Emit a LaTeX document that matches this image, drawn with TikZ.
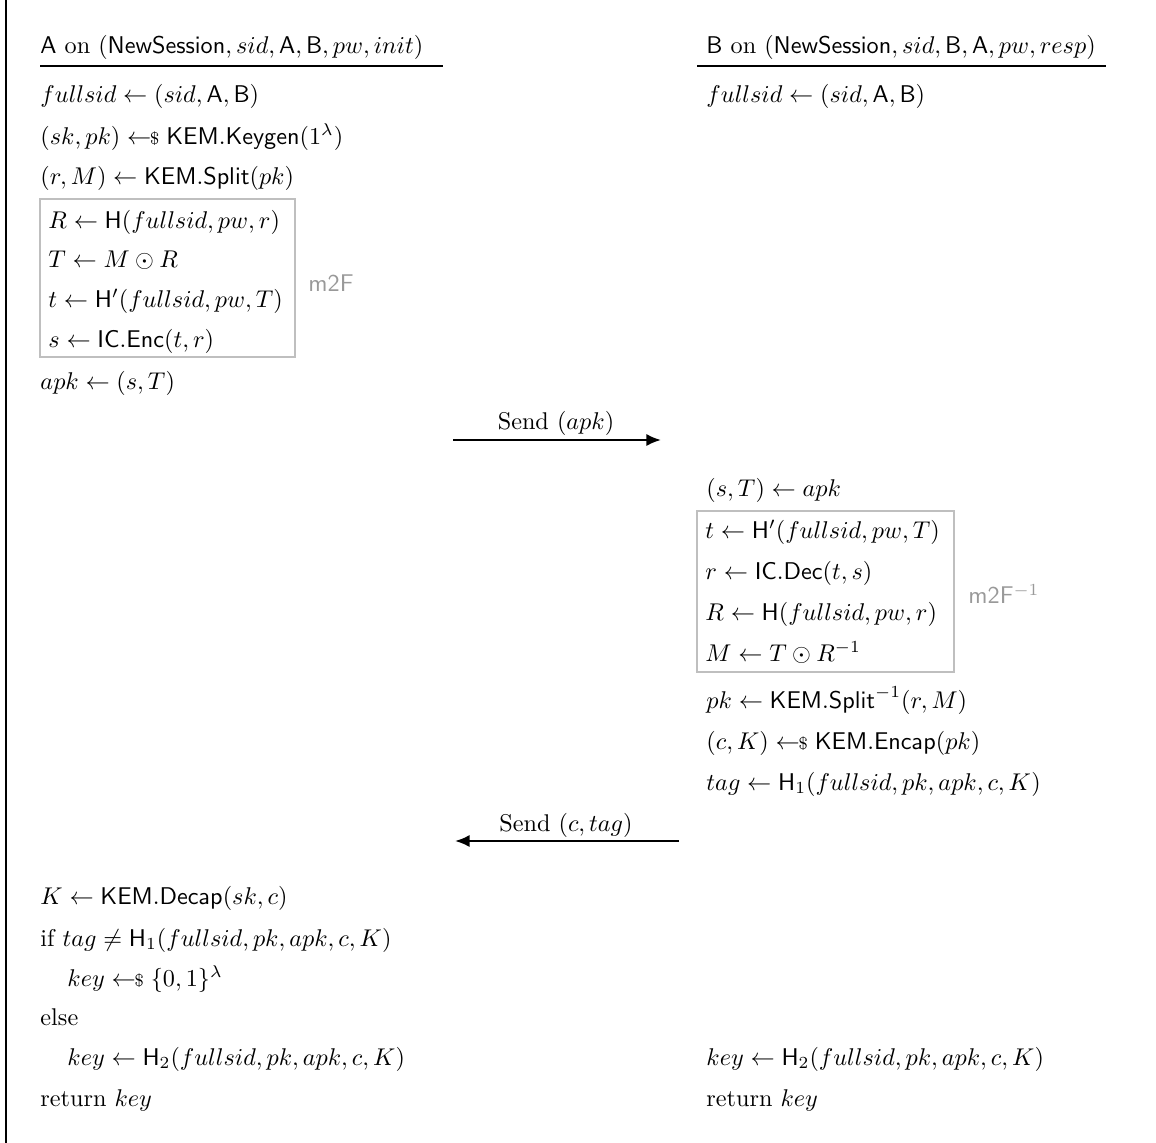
\documentclass[tikz,border=0pt]{standalone}
\usetikzlibrary{arrows.meta}
\newcommand{\smp}{\mathrel{\leftarrow\!\!\mbox{\scriptsize\$}}}
\newcommand{\fs}{fullsid}
\tikzset{
  ln/.style={anchor=west, inner sep=0pt, text height=7.5pt, text depth=2.5pt},
  grayframe/.style={draw=black!25, line width=0.8pt},
  grlabel/.style={anchor=west, inner sep=0pt, text=black!40, font=\sffamily},
  rule/.style={line width=0.9pt},
  msg/.style={line width=0.9pt, -{Latex[length=6pt,width=5pt]}},
  msglabel/.style={inner sep=0pt},
}
\begin{document}
\begin{tikzpicture}[x=0.413pt, y=-0.413pt]
\useasboundingbox (0,0) rectangle (1156,1143);
\draw[line width=0.8pt] (6,0) -- (6,1143);

% Party A header
\node[ln] (ha) at (40,47) {$\mathsf{A}$ on $(\mathsf{NewSession}, sid, \mathsf{A}, \mathsf{B}, pw, init)$};
\draw[rule] (40,66) -- (443,66);
% Party B header
\node[ln] (hb) at (706,47) {$\mathsf{B}$ on $(\mathsf{NewSession}, sid, \mathsf{B}, \mathsf{A}, pw, resp)$};
\draw[rule] (697,66) -- (1106,66);

% A lines
\node[ln] (a1) at (40,96) {$\fs \leftarrow (sid, \mathsf{A}, \mathsf{B})$};
\node[ln] (a2) at (40,138) {$(sk, pk) \smp \mathsf{KEM.Keygen}(1^\lambda)$};
\node[ln] (a3) at (40,178) {$(r, M) \leftarrow \mathsf{KEM.Split}(pk)$};
\node[ln] (a4) at (48,222) {$R \leftarrow \mathsf{H}(\fs, pw, r)$};
\node[ln] (a5) at (48,261) {$T \leftarrow M \odot R$};
\node[ln] (a6) at (48,301) {$t \leftarrow \mathsf{H}'(\fs, pw, T)$};
\node[ln] (a7) at (48,341) {$s \leftarrow \mathsf{IC.Enc}(t, r)$};
\draw[grayframe] (40,199) rectangle (295,357);
\node[grlabel] (m2f) at (308,283) {m2F};
\node[ln] (a8) at (40,383) {$apk \leftarrow (s, T)$};

% message 1
\coordinate (s1) at (453,440);
\coordinate (e1) at (661,440);
\draw[msg] (s1) -- (e1);
\node[msglabel] (l1) at (556,423) {Send $(apk)$};

% B lines
\node[ln] (b1) at (706,96) {$\fs \leftarrow (sid, \mathsf{A}, \mathsf{B})$};
\node[ln] (b2) at (706,490) {$(s, T) \leftarrow apk$};
\node[ln] (b3) at (705,532) {$t \leftarrow \mathsf{H}'(\fs, pw, T)$};
\node[ln] (b4) at (705,573) {$r \leftarrow \mathsf{IC.Dec}(t, s)$};
\node[ln] (b5) at (705,614) {$R \leftarrow \mathsf{H}(\fs, pw, r)$};
\node[ln] (b6) at (705,655) {$M \leftarrow T \odot R^{-1}$};
\draw[grayframe] (697,511) rectangle (954,672);
\node[grlabel] (m2fi) at (968,594) {m2F$^{-1}$};
\node[ln] (b7) at (706,702) {$pk \leftarrow \mathsf{KEM.Split}^{-1}(r, M)$};
\node[ln] (b8) at (706,743) {$(c, K) \smp \mathsf{KEM.Encap}(pk)$};
\node[ln] (b9) at (706,784) {$tag \leftarrow \mathsf{H}_1(\fs, pk, apk, c, K)$};

% message 2
\coordinate (s2) at (679,841);
\coordinate (e2) at (455,841);
\draw[msg] (s2) -- (e2);
\node[msglabel] (l2) at (566,825) {Send $(c, tag)$};

% A final
\node[ln] (a9) at (40,898) {$K \leftarrow \mathsf{KEM.Decap}(sk, c)$};
\node[ln] (a10) at (40,940) {if $tag \neq \mathsf{H}_1(\fs, pk, apk, c, K)$};
\node[ln] (a11) at (67,980) {$key \smp \{0,1\}^\lambda$};
\node[ln] (a12) at (40,1019) {else};
\node[ln] (a13) at (67,1059) {$key \leftarrow \mathsf{H}_2(\fs, pk, apk, c, K)$};
\node[ln] (a14) at (40,1100) {return $key$};

% B final
\node[ln] (b10) at (706,1059) {$key \leftarrow \mathsf{H}_2(\fs, pk, apk, c, K)$};
\node[ln] (b11) at (706,1100) {return $key$};
\end{tikzpicture}
\end{document}
